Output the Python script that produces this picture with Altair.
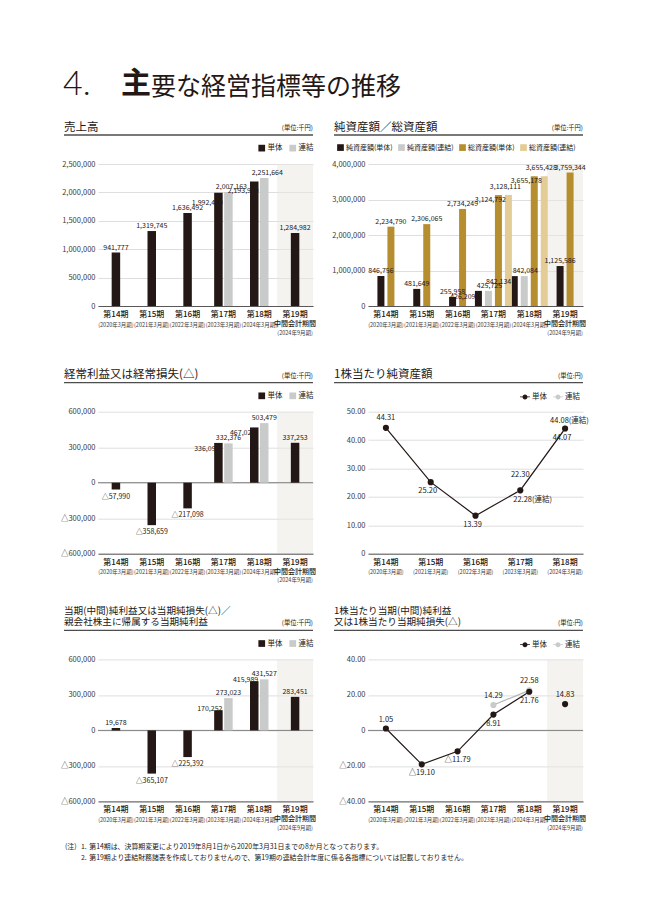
import altair as alt
import pandas as pd

# ---------------- data ----------------
PERIODS = ["第14期", "第15期", "第16期", "第17期", "第18期", "第19期"]
DATES = ["(2020年3月期)", "(2021年3月期)", "(2022年3月期)", "(2023年3月期)",
         "(2024年3月期)", "(2024年9月期)"]
INTERIM = "中間会計期間"
SERIES = ["単体", "連結"]

SALES_SOLO = [941777, 1319745, 1636492, 1992480, 2193989, 1284982]
SALES_CONS = [None, None, None, 2007163, 2251664, None]

ASSET_SERIES = ["純資産額(単体)", "純資産額(連結)", "総資産額(単体)", "総資産額(連結)"]
NET_SOLO = [846756, 481649, 255958, 426209, 842134, 1125586]
NET_CONS = [None, None, None, 425725, 842084, None]
TOTAL_SOLO = [2234790, 2306065, 2734249, 3124792, 3655178, 3759344]
TOTAL_CONS = [None, None, None, 3128111, 3655428, None]

ORD_SOLO = [-57990, -358659, -217098, 336099, 467028, 337253]
ORD_CONS = [None, None, None, 332376, 503479, None]

BPS_PERIODS = PERIODS[:5]
BPS_SOLO = [44.31, 25.20, 13.39, 22.30, 44.07]
BPS_CONS = [None, None, None, 22.28, 44.08]

NI_SOLO = [19678, -365107, -225392, 170252, 415989, 283451]
NI_CONS = [None, None, None, 273023, 431527, None]

EPS_SOLO = [1.05, -19.10, -11.79, 8.91, 21.76, 14.83]
EPS_CONS = [None, None, None, 14.29, 22.58, None]

NOTE1 = "第14期は、決算期変更により2019年8月1日から2020年3月31日までの8か月となっております。"
NOTE2 = "第19期より連結財務諸表を作成しておりませんので、第19期の連結会計年度に係る各指標については記載しておりません。"

# ---------------- style ----------------
INK = "#231815"
LGRAY = "#c9caca"
LGRAY_LINE = "#b5b5b6"
GOLD = "#b68d2f"
LGOLD = "#e3cc96"
GRID = "#d5d5d5"
SHADE = "#e9e7e1"
CJK = "Noto Sans CJK JP"
NUM = "'Liberation Sans Narrow', 'Noto Sans CJK JP', sans-serif"
W, H = 215, 142
ONE = pd.DataFrame({"k": [0]})

LABEL_INT = "datum.value < 0 ? '△' + format(-datum.value, ',') : format(datum.value, ',')"
LABEL_DEC = "datum.value < 0 ? '△' + format(-datum.value, '.2f') : format(datum.value, '.2f')"

# label placement choices (style)
BPS_ABOVE = ["第14期"]
BPS_HIGH = ["第17期"]
EPS_ABOVE = ["第14期", "第19期"]


def long_df(periods, pairs):
    rows = []
    for name, vals in pairs:
        for p, v in zip(periods, vals):
            if v is not None:
                rows.append({"period": p, "series": name, "value": v})
    return pd.DataFrame(rows)


XAXIS = alt.Axis(labels=False, ticks=False, domain=True, domainColor="#595757",
                 domainWidth=1, grid=False, title=None)


def xscale(periods, kind="band"):
    if kind == "band":
        return alt.Scale(type="band", domain=periods, paddingInner=0, paddingOuter=0)
    return alt.Scale(type="point", domain=periods, padding=0.4)


def xenc(periods, kind="band"):
    return alt.X("period:N", scale=xscale(periods, kind), axis=XAXIS)


def yenc(lo, hi, step, kind):
    n = int(round((hi - lo) / step))
    vals = [lo + i * step for i in range(n + 1)]
    if kind == "int":
        expr = LABEL_INT
    else:
        expr = ("datum.value == 0 ? '0' : (datum.value < 0 ? '△' + format(-datum.value, '.2f')"
                " : format(datum.value, '.2f'))")
    return alt.Y("value:Q", scale=alt.Scale(domain=[lo, hi], nice=False),
                 axis=alt.Axis(values=vals, labelExpr=expr, grid=True, gridColor=GRID,
                               gridWidth=0.8, ticks=False, domain=False, labelFont=NUM,
                               labelFontSize=7.5, labelColor="#3e3a39", labelPadding=3,
                               title=None))


def legend(x, y, stype="square", ssize=45, fsize=7.5, cpad=6):
    return alt.Legend(orient="none", legendX=x, legendY=y, direction="horizontal", title=None,
                      symbolType=stype, symbolSize=ssize, symbolStrokeWidth=0,
                      symbolOpacity=1, labelFont=CJK, labelFontSize=fsize, labelColor=INK,
                      columnPadding=cpad, labelOffset=2, padding=0)


def shade(periods):
    return alt.Chart(pd.DataFrame({"period": [periods[-1]]})).mark_rect(
        color=SHADE, opacity=0.5).encode(
        x=alt.X("period:N", scale=xscale(periods), axis=XAXIS, bandPosition=0),
        x2=alt.X2("period", bandPosition=1),
        y=alt.value(0), y2=alt.value(H))


def zero_rule(yE):
    return alt.Chart(ONE).transform_calculate(value="0").mark_rule(
        color="#808080", strokeWidth=1).encode(y=yE)


def header(lines, unit, size):
    out = []
    ys = [-36.5] if len(lines) == 1 else [-48, -37]
    for t, y in zip(lines, ys):
        out.append(alt.Chart(ONE).mark_text(text=t, align="left", baseline="middle", font=CJK,
                                            fontSize=size, color=INK)
                   .encode(x=alt.value(-34), y=alt.value(y)))
    out.append(alt.Chart(ONE).mark_rule(color="#4d4d4d", strokeWidth=1.3)
               .encode(x=alt.value(-34), x2=alt.value(W), y=alt.value(-29)))
    out.append(alt.Chart(ONE).mark_text(text=unit, align="right", baseline="middle", font=CJK,
                                        fontSize=6.3, color=INK)
               .encode(x=alt.value(W), y=alt.value(ys[-1] + 0.5)))
    return out


def xlabels(periods, kind, interim):
    df = pd.DataFrame({"period": periods, "date": DATES[:len(periods)]})
    X = xenc(periods, kind)
    out = [alt.Chart(df).mark_text(font=CJK, fontSize=8, fontWeight=500, color=INK,
                                   baseline="middle")
           .encode(x=X, y=alt.value(H + 9), text="period:N")]
    last = periods[-1]
    flt = f"datum.period != '{last}'" if interim else "true"
    out.append(alt.Chart(df).transform_filter(flt)
               .mark_text(font=CJK, fontSize=5.5, color="#3e3a39", baseline="middle")
               .encode(x=X, y=alt.value(H + 18.5), text="date:N"))
    if interim:
        out.append(alt.Chart(df).transform_filter(f"datum.period == '{last}'")
                   .mark_text(text=INTERIM, font=CJK, fontSize=7, fontWeight=500, color=INK,
                              baseline="middle")
                   .encode(x=X, y=alt.value(H + 18)))
        out.append(alt.Chart(df).transform_filter(f"datum.period == '{last}'")
                   .mark_text(font=CJK, fontSize=5.5, color="#3e3a39", baseline="middle")
                   .encode(x=X, y=alt.value(H + 26.5), text="date:N"))
    return out


def bar_layers(df, periods, order, colors, bw, unit, off_expr, yE, leg, specs):
    X = xenc(periods)
    half = W / len(periods) / 2.0
    base = (alt.Chart(df)
            .transform_joinaggregate(n="count()", groupby=["period"])
            .transform_calculate(off=off_expr, label=LABEL_INT))
    XO = alt.XOffset("off:Q", scale=alt.Scale(domain=[-2, 2],
                                              range=[half - 2 * unit, half + 2 * unit]))
    bars = base.mark_bar(width=bw).encode(
        x=X, xOffset=XO, y=yE,
        color=alt.Color("series:N", scale=alt.Scale(domain=order, range=colors), legend=leg))
    out = [bars]
    for flt, kw in specs:
        out.append(base.transform_filter(flt)
                   .mark_text(font=NUM, fontSize=7, color=INK, **kw)
                   .encode(x=X, xOffset=XO, y=yE, text="label:N"))
    return out


def line_layers(df, periods, kind, yE, leg, specs, exclude=None):
    X = xenc(periods, kind)
    base = (alt.Chart(df).transform_calculate(label=LABEL_DEC)
            .transform_calculate(label_c="datum.label + '(連結)'"))
    solo_flt = "datum.series == '単体'"
    if exclude:
        solo_flt += f" && datum.period != '{exclude}'"
    col = alt.Color("series:N", scale=alt.Scale(domain=SERIES, range=[INK, LGRAY]), legend=leg)
    out = [
        base.transform_filter("datum.series == '連結'")
        .mark_line(color=LGRAY_LINE, strokeWidth=1.2).encode(x=X, y=yE),
        base.transform_filter(solo_flt).mark_line(color=INK, strokeWidth=1.2).encode(x=X, y=yE),
        base.transform_filter("datum.series == '連結'")
        .mark_point(filled=True, size=38, opacity=1).encode(x=X, y=yE, color=col),
        base.transform_filter("datum.series == '単体'")
        .mark_point(filled=True, size=38, opacity=1).encode(x=X, y=yE, color=col),
    ]
    for flt, kw, field in specs:
        out.append(base.transform_filter(flt)
                   .mark_text(font=NUM, fontSize=7.5, color=INK, **kw)
                   .encode(x=X, y=yE, text=f"{field}:N"))
    return out


def pair_specs(dx_solo, dy_solo, dx_cons=0):
    return [
        ("datum.n == 1 && datum.value >= 0", dict(align="center", baseline="bottom", dy=-2)),
        ("datum.n == 1 && datum.value < 0", dict(align="center", baseline="top", dy=3)),
        ("datum.n == 2 && datum.series == '連結'",
         dict(align="center", baseline="bottom", dx=dx_cons, dy=-2)),
        ("datum.n == 2 && datum.series == '単体'",
         dict(align="right", baseline="middle", dx=dx_solo, dy=dy_solo)),
    ]


def in_list(lst):
    return "(indexof(" + str(lst) + ", datum.period) >= 0)"


PAIR_OFF = "datum.n == 2 ? (datum.series == '単体' ? -0.5 : 0.5) : 0"
QUAD_OFF = ("datum.n == 4 ? indexof(['純資産額(単体)','純資産額(連結)','総資産額(単体)','総資産額(連結)'],"
            " datum.series) - 1.5 : (datum.series == '純資産額(単体)' ? -0.5 : 0.5)")
LINE_SYM = ("M-1,-0.07L1,-0.07L1,0.07L-1,0.07Z"
            "M0.5,0A0.5,0.5,0,1,1,-0.5,0A0.5,0.5,0,1,1,0.5,0Z")

# ---------------- panel 1 ----------------
df1 = long_df(PERIODS, [("単体", SALES_SOLO), ("連結", SALES_CONS)])
y1 = yenc(0, 2500000, 500000, "int")
main_title = [
    alt.Chart(ONE).mark_text(text="4.", font="Lato", fontWeight=300, fontSize=34, color=INK,
                             align="left", baseline="alphabetic")
    .encode(x=alt.value(-35), y=alt.value(-69)),
    alt.Chart(ONE).mark_text(text="主", font=CJK, fontWeight="bold", fontSize=30, color=INK,
                             align="left", baseline="middle")
    .encode(x=alt.value(23), y=alt.value(-80)),
    alt.Chart(ONE).mark_text(text="要な経営指標等の推移", font=CJK, fontSize=25, color=INK,
                             align="left", baseline="middle")
    .encode(x=alt.value(53), y=alt.value(-77)),
]
anchor = alt.Chart(ONE).mark_rule(opacity=0).encode(
    x=alt.value(-90), x2=alt.value(-89), y=alt.value(-156), y2=alt.value(-155))
p1 = alt.layer(
    shade(PERIODS),
    *bar_layers(df1, PERIODS, SERIES, [INK, LGRAY], 8.5, 10, PAIR_OFF, y1,
                legend(160, -20), pair_specs(4.5, 10, dx_cons=3)),
    *xlabels(PERIODS, "band", True),
    *header(["売上高"], "(単位:千円)", 11.5),
    *main_title, anchor,
).properties(width=W, height=H)

# ---------------- panel 2 ----------------
df2 = long_df(PERIODS, [(ASSET_SERIES[0], NET_SOLO), (ASSET_SERIES[1], NET_CONS),
                        (ASSET_SERIES[2], TOTAL_SOLO), (ASSET_SERIES[3], TOTAL_CONS)])
y2 = yenc(0, 4000000, 1000000, "int")
specs2 = [
    ("datum.n == 2", dict(align="center", baseline="bottom", dy=-2)),
    ("datum.n == 4 && datum.series == '純資産額(単体)'",
     dict(align="right", baseline="middle", dx=-3, dy=6)),
    ("datum.n == 4 && datum.series == '純資産額(連結)'",
     dict(align="center", baseline="bottom", dx=1, dy=-2)),
    ("datum.n == 4 && datum.series == '総資産額(単体)'",
     dict(align="center", baseline="middle", dx=-8, dy=4.5)),
    ("datum.n == 4 && datum.series == '総資産額(連結)'",
     dict(align="center", baseline="bottom", dx=-3, dy=-5)),
]
p2 = alt.layer(
    shade(PERIODS),
    *bar_layers(df2, PERIODS, ASSET_SERIES, [INK, LGRAY, GOLD, LGOLD], 7, 7, QUAD_OFF, y2,
                legend(-31, -20, fsize=7, cpad=5), specs2),
    *xlabels(PERIODS, "band", True),
    *header(["純資産額／総資産額"], "(単位:千円)", 11.5),
).properties(width=W, height=H)

# ---------------- panel 3 ----------------
df3 = long_df(PERIODS, [("単体", ORD_SOLO), ("連結", ORD_CONS)])
y3 = yenc(-600000, 600000, 300000, "int")
p3 = alt.layer(
    shade(PERIODS),
    zero_rule(y3),
    *bar_layers(df3, PERIODS, SERIES, [INK, LGRAY], 8.5, 10, PAIR_OFF, y3,
                legend(160, -20), pair_specs(1, 6)),
    *xlabels(PERIODS, "band", True),
    *header(["経常利益又は経常損失(△)"], "(単位:千円)", 11.5),
).properties(width=W, height=H)

# ---------------- panel 4 ----------------
df4 = long_df(BPS_PERIODS, [("単体", BPS_SOLO), ("連結", BPS_CONS)])
y4 = yenc(0, 50, 10, "dec")
specs4 = [
    (f"datum.series == '単体' && {in_list(BPS_ABOVE)}",
     dict(align="center", baseline="bottom", dy=-6), "label"),
    (f"datum.series == '単体' && {in_list(BPS_HIGH)}",
     dict(align="center", baseline="bottom", dy=-11), "label"),
    (f"datum.series == '単体' && !{in_list(BPS_ABOVE)} && !{in_list(BPS_HIGH)}",
     dict(align="center", baseline="top", dx=-3, dy=5), "label"),
    ("datum.series == '連結' && datum.period == '第17期'",
     dict(align="left", baseline="top", dx=-7, dy=6), "label_c"),
    ("datum.series == '連結' && datum.period == '第18期'",
     dict(align="left", baseline="bottom", dx=-15, dy=-4), "label_c"),
]
p4 = alt.layer(
    *line_layers(df4, BPS_PERIODS, "point", y4, legend(152, -20, stype=LINE_SYM, ssize=100),
                 specs4),
    *xlabels(BPS_PERIODS, "point", False),
    *header(["1株当たり純資産額"], "(単位:円)", 11.5),
).properties(width=W, height=H)

# ---------------- panel 5 ----------------
df5 = long_df(PERIODS, [("単体", NI_SOLO), ("連結", NI_CONS)])
y5 = yenc(-600000, 600000, 300000, "int")
notes = [
    alt.Chart(ONE).mark_text(text=t, align="left", baseline="middle", font=CJK, fontSize=6.9,
                             color=INK).encode(x=alt.value(x), y=alt.value(y))
    for t, x, y in [("(注)", -33, 188), ("1.", -17, 188), (NOTE1, -8.7, 188),
                    ("2.", -17, 198.5), (NOTE2, -8.7, 198.5)]
]
p5 = alt.layer(
    shade(PERIODS),
    zero_rule(y5),
    *bar_layers(df5, PERIODS, SERIES, [INK, LGRAY], 8.5, 10, PAIR_OFF, y5,
                legend(160, -20), pair_specs(4, -1)),
    *xlabels(PERIODS, "band", True),
    *header(["当期(中間)純利益又は当期純損失(△)／", "親会社株主に帰属する当期純利益"],
            "(単位:千円)", 9.6),
    *notes,
).properties(width=W, height=H)

# ---------------- panel 6 ----------------
df6 = long_df(PERIODS, [("単体", EPS_SOLO), ("連結", EPS_CONS)])
y6 = yenc(-40, 40, 20, "dec")
specs6 = [
    (f"datum.series == '単体' && {in_list(EPS_ABOVE)}",
     dict(align="center", baseline="bottom", dy=-5), "label"),
    (f"datum.series == '単体' && !{in_list(EPS_ABOVE)}",
     dict(align="center", baseline="top", dy=5), "label"),
    ("datum.series == '連結'", dict(align="center", baseline="bottom", dy=-5), "label"),
]
p6 = alt.layer(
    shade(PERIODS),
    zero_rule(y6),
    *line_layers(df6, PERIODS, "band", y6, legend(152, -20, stype=LINE_SYM, ssize=100),
                 specs6, exclude="第19期"),
    *xlabels(PERIODS, "band", True),
    *header(["1株当たり当期(中間)純利益", "又は1株当たり当期純損失(△)"], "(単位:円)", 9.6),
).properties(width=W, height=H)

chart = (
    alt.ConcatChart(concat=[p1, p2, p3, p4, p5, p6], columns=2, bounds="flush",
                    spacing={"row": 105.7, "column": 55}, padding=0)
    .resolve_scale(color="independent")
    .resolve_legend(color="independent")
    .configure(font=CJK)
    .configure_view(stroke=None)
)

chart.save("out.html", embed_options={"renderer": "svg", "actions": False})
